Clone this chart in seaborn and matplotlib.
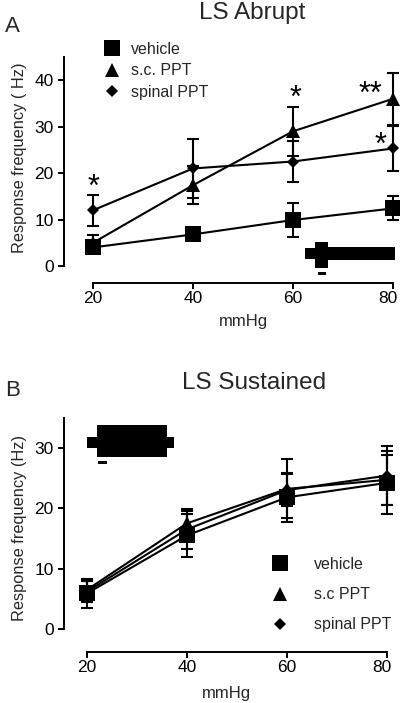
import numpy as np
import pandas as pd
import matplotlib
matplotlib.use("Agg")
import matplotlib.pyplot as plt
import matplotlib.transforms as mtransforms
import seaborn as sns
from matplotlib.lines import Line2D

# ---------------- data ----------------
pressure = [20, 40, 60, 80]
groups_a = ["vehicle", "s.c. PPT", "spinal PPT"]
groups_b = ["vehicle", "s.c PPT", "spinal PPT"]

abrupt_vehicle = [4.0, 6.8, 9.9, 12.4]
abrupt_vehicle_err = [1.0, 1.0, 3.6, 2.6]
abrupt_sc = [5.0, 17.4, 29.0, 36.0]
abrupt_sc_err = [1.7, 4.1, 5.3, 5.6]
abrupt_spinal = [12.0, 21.0, 22.5, 25.3]
abrupt_spinal_err = [3.3, 6.3, 4.5, 4.9]

sust_vehicle = [5.9, 15.5, 21.8, 24.2]
sust_vehicle_err = [2.4, 3.6, 4.1, 5.2]
sust_sc = [6.5, 17.5, 23.2, 24.7]
sust_sc_err = [1.5, 2.1, 4.9, 4.1]
sust_spinal = [6.2, 16.5, 23.0, 25.4]
sust_spinal_err = [1.7, 3.3, 2.7, 4.9]

y_ticks_a = [0, 10, 20, 30, 40]
y_ticks_b = [0, 10, 20, 30]
x_ticks = [20, 40, 60, 80]

# significance marks (x, y, text)
stars_a = [(20, 15.1, "*"), (60.4, 34.2, "*"), (75.4, 35.1, "**"), (77.4, 24.1, "*")]

# ---------------- style ----------------
sns.set_theme(style="ticks")
plt.rcParams["font.family"] = ["Liberation Sans", "DejaVu Sans"]
plt.rcParams["axes.linewidth"] = 1.4
plt.rcParams["xtick.major.width"] = 1.4
plt.rcParams["ytick.major.width"] = 1.4
plt.rcParams["xtick.major.size"] = 4.0
plt.rcParams["ytick.major.size"] = 4.5
plt.rcParams["xtick.color"] = "black"
plt.rcParams["ytick.color"] = "black"
plt.rcParams["axes.edgecolor"] = "black"

markers = ["s", "^", "D"]
msizes = [11, 10, 6.6]

fig = plt.figure(figsize=(4.0, 7.03), dpi=100)
W, H = 400.0, 703.0


def make_df(vals, names):
    rows = []
    for name, v in zip(names, vals):
        for x, y in zip(pressure, v):
            rows.append({"mmHg": x, "freq": y, "group": name})
    return pd.DataFrame(rows)


def draw_panel(ax, vals, errs, names, xlim, ylim, yticks, xoff):
    df = make_df(vals, names)
    for i, name in enumerate(names):
        sub = df[df["group"] == name]
        ax.errorbar(sub["mmHg"], sub["freq"], yerr=errs[i], fmt="none",
                    ecolor="black", elinewidth=1.5, capsize=4.5, capthick=1.5,
                    clip_on=False, zorder=2)
        sns.lineplot(data=sub, x="mmHg", y="freq", ax=ax, color="black",
                     marker=markers[i], markersize=msizes[i], markeredgewidth=0,
                     linewidth=1.5, legend=False, clip_on=False, zorder=3)
    ax.set_xlim(*xlim)
    ax.set_ylim(*ylim)
    ax.set_xticks(x_ticks)
    ax.set_yticks(yticks)
    ax.spines["top"].set_visible(False)
    ax.spines["right"].set_visible(False)
    ax.spines["bottom"].set_position(("outward", xoff))
    ax.spines["bottom"].set_bounds(20, 80)
    ax.spines["left"].set_bounds(ylim[0], ylim[1])
    ax.tick_params(axis="y", labelsize=12.5, pad=3)
    ax.tick_params(axis="x", labelsize=12.5, pad=2)
    ax.set_xlabel("mmHg", fontsize=12)
    ax.patch.set_alpha(0)
    # keep the last x tick label inside the figure edge
    last = ax.get_xticklabels()[-1]
    last.set_transform(last.get_transform() +
                       mtransforms.ScaledTranslation(-5 / 100, 0, fig.dpi_scale_trans))


# ---------------- panel A ----------------
axA = fig.add_axes([64 / W, (H - 266) / H, 332 / W, 209 / H])
draw_panel(axA, [abrupt_vehicle, abrupt_sc, abrupt_spinal],
           [abrupt_vehicle_err, abrupt_sc_err, abrupt_spinal_err],
           groups_a, (14.2, 80.6), (0, 45), y_ticks_a, 12)
axA.set_ylabel("Response frequency ( Hz)", fontsize=11.8)
axA.yaxis.set_label_coords(-0.11, 0.52)
axA.xaxis.set_label_coords(0.54, -0.23)
for sx, sy, st in stars_a:
    axA.text(sx, sy, st, ha="center", va="baseline", fontsize=22, color="black")

# inset trace A (decorative recording)
axA.fill_between([62.4, 64.4], [1.5, 1.5], [3.9, 3.9], color="black", lw=0, clip_on=False)
axA.fill_between([64.4, 67.0], [-0.4, -0.4], [5.2, 5.2], color="black", lw=0, clip_on=False)
axA.fill_between([67.0, 80.4], [1.2, 1.2], [4.0, 4.0], color="black", lw=0, clip_on=False)
axA.fill_between([65.0, 66.6], [-1.9, -1.9], [-1.3, -1.3], color="black", lw=0, clip_on=False)

handles_a = [Line2D([], [], color="black", marker=m, markersize=s, linestyle="none",
                    markeredgewidth=0) for m, s in zip(markers, msizes)]
fig.legend(handles_a, groups_a, loc="upper left",
           bbox_to_anchor=(104 / W, 1 - 42 / H), frameon=False, fontsize=11.5,
           handlelength=1.0, handletextpad=0.7, labelspacing=0.4, borderpad=0,
           borderaxespad=0)

fig.text(5 / W, 1 - 27 / H, "A", fontsize=16, va="center", ha="left")
fig.text(252 / W, 1 - 13 / H, "LS Abrupt", fontsize=17.5, va="center", ha="center")

# ---------------- panel B ----------------
axB = fig.add_axes([64 / W, (H - 629) / H, 332 / W, 211.4 / H])
draw_panel(axB, [sust_vehicle, sust_sc, sust_spinal],
           [sust_vehicle_err, sust_sc_err, sust_spinal_err],
           groups_b, (15.4, 81.8), (0, 35), y_ticks_b, 16.5)
axB.set_ylabel("Response frequency (Hz)", fontsize=11.8)
axB.yaxis.set_label_coords(-0.11, 0.48)
axB.xaxis.set_label_coords(0.49, -0.27)

axB.fill_between([20.0, 22.0], [30.0, 30.0], [31.8, 31.8], color="black", lw=0, clip_on=False)
axB.fill_between([22.0, 36.0], [28.5, 28.5], [33.8, 33.8], color="black", lw=0, clip_on=False)
axB.fill_between([36.0, 37.4], [30.0, 30.0], [31.8, 31.8], color="black", lw=0, clip_on=False)
axB.fill_between([22.2, 24.0], [27.4, 27.4], [27.8, 27.8], color="black", lw=0, clip_on=False)

handles_b = [Line2D([], [], color="black", marker=m, markersize=s, linestyle="none",
                    markeredgewidth=0) for m, s in zip(markers, msizes)]
fig.legend(handles_b, groups_b, loc="upper left",
           bbox_to_anchor=(272 / W, 1 - 557 / H), frameon=False, fontsize=11.5,
           handlelength=1.0, handletextpad=1.6, labelspacing=0.95, borderpad=0,
           borderaxespad=0)

fig.text(5 / W, 1 - 391 / H, "B", fontsize=16, va="center", ha="left")
fig.text(254 / W, 1 - 383 / H, "LS Sustained", fontsize=17.5, va="center", ha="center")

fig.savefig("out.png", dpi=100)
